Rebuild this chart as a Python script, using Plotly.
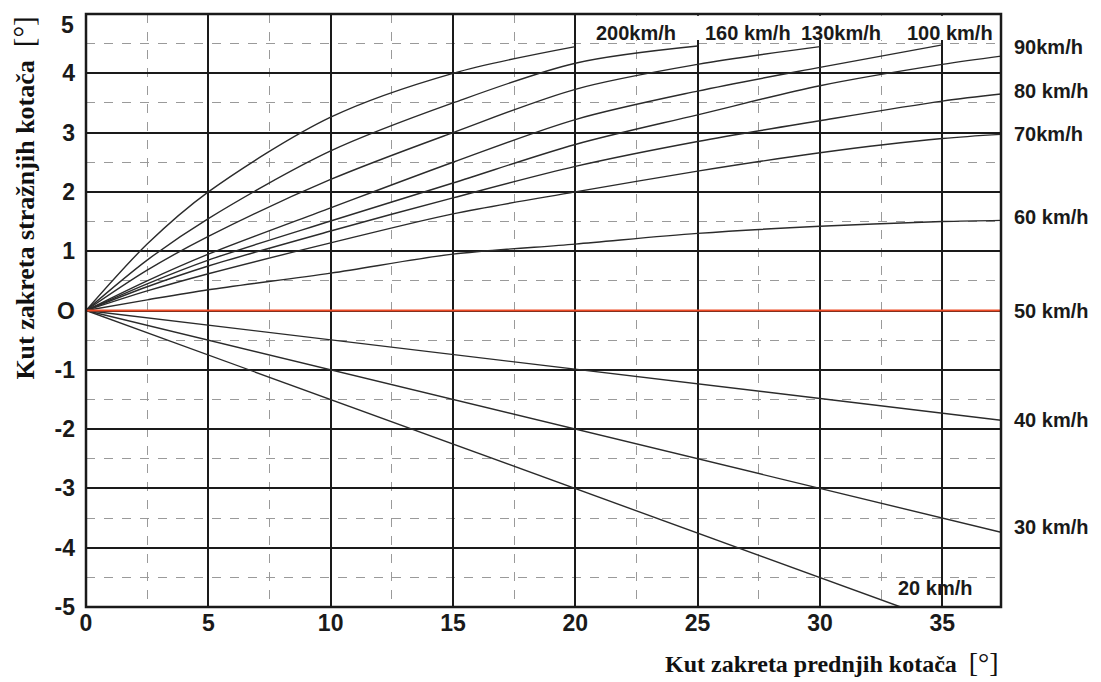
import plotly.graph_objects as go

# ---- data ----
x60 = [0, 2.5, 5, 10, 15, 20, 25, 30, 35, 37.4]
y60 = [0, 0.18, 0.35, 0.63, 0.95, 1.12, 1.30, 1.42, 1.50, 1.52]
x70 = [0, 2.5, 5, 10, 15, 20, 25, 30, 35, 37.4]
y70 = [0, 0.33, 0.62, 1.14, 1.63, 2.00, 2.35, 2.66, 2.90, 2.97]
x80 = [0, 2.5, 5, 10, 15, 20, 25, 30, 35, 37.4]
y80 = [0, 0.40, 0.75, 1.34, 1.90, 2.43, 2.85, 3.20, 3.53, 3.65]
x90 = [0, 2.5, 5, 10, 15, 20, 25, 30, 35, 37.4]
y90 = [0, 0.45, 0.85, 1.51, 2.15, 2.80, 3.30, 3.79, 4.15, 4.29]
x100 = [0, 2.5, 5, 10, 15, 20, 25, 30, 35]
y100 = [0, 0.50, 0.95, 1.73, 2.50, 3.22, 3.70, 4.10, 4.48]
x130 = [0, 2.5, 5, 10, 15, 20, 25, 30]
y130 = [0, 0.68, 1.25, 2.21, 3.00, 3.73, 4.15, 4.45]
x160 = [0, 2.5, 5, 10, 15, 20, 25]
y160 = [0, 0.85, 1.55, 2.69, 3.50, 4.17, 4.46]
x200 = [0, 2.5, 5, 10, 15, 20]
y200 = [0, 1.12, 2.00, 3.26, 4.00, 4.45]
x50 = [0, 37.4]
y50 = [0, 0]
x40 = [0, 37.4]
y40 = [0, -1.85]
x30 = [0, 37.4]
y30 = [0, -3.74]
x20 = [0, 33.3]
y20 = [0, -5.0]

series = [
    ("200km/h", x200, y200), ("160 km/h", x160, y160), ("130km/h", x130, y130),
    ("100 km/h", x100, y100), ("90km/h", x90, y90), ("80 km/h", x80, y80),
    ("70km/h", x70, y70), ("60 km/h", x60, y60), ("40 km/h", x40, y40),
    ("30 km/h", x30, y30), ("20 km/h", x20, y20),
]

x_ticks = [0, 5, 10, 15, 20, 25, 30, 35]
y_ticks = [-5, -4, -3, -2, -1, 0, 1, 2, 3, 4]
y_ticktext = ["-5", "-4", "-3", "-2", "-1", "O", "1", "2", "3", "4"]
y_top_label = "5"

right_labels = ["90km/h", "80 km/h", "70km/h", "60 km/h", "50 km/h", "40 km/h", "30 km/h"]
right_label_y = [4.45, 3.70, 2.98, 1.58, 0.0, -1.84, -3.65]
top_labels = ["200km/h", "160 km/h", "130km/h", "100 km/h"]
top_label_x = [22.5, 27.05, 30.85, 35.3]

XMAX = 37.4
SANS = "Liberation Sans, Arial, sans-serif"
label_font = dict(family=SANS, size=20, color="#1a1a1a", weight="bold")
tick_font = dict(family=SANS, size=23, color="#1a1a1a", weight="bold")

fig = go.Figure()

for name, xs, ys in series:
    fig.add_trace(go.Scatter(x=xs, y=ys, mode="lines", name=name,
                             line=dict(color="#2b2b2b", width=1.4, shape="spline", smoothing=0.9),
                             showlegend=False, hoverinfo="skip"))

fig.add_trace(go.Scatter(x=x50, y=y50, mode="lines", name="50 km/h",
                         line=dict(color="#ee4a25", width=2.2), showlegend=False))

# white strip behind top labels
fig.add_shape(type="rect", x0=20.2, x1=XMAX - 0.05, y0=4.56, y1=4.97,
              fillcolor="white", line=dict(width=0), layer="above")

for txt, xv in zip(top_labels, top_label_x):
    fig.add_annotation(x=xv, y=4.68, text=txt, showarrow=False,
                       font=label_font, xanchor="center", yanchor="middle")

for txt, yv in zip(right_labels, right_label_y):
    fig.add_annotation(x=1.012, xref="paper", y=yv, yref="y", text=txt,
                       showarrow=False, font=label_font, xanchor="left", yanchor="middle")

fig.add_annotation(x=34.7, y=-4.68, text="20 km/h", showarrow=False,
                   font=label_font, xanchor="center", yanchor="middle")

# top "5" tick label sits just under the top border in the reference
fig.add_annotation(x=-0.011, xref="paper", y=4.82, yref="y", text=y_top_label,
                   showarrow=False, font=tick_font, xanchor="right", yanchor="middle")

title_font = dict(family="Liberation Serif, Times New Roman, serif", size=26,
                  color="#111", weight="bold")
fig.add_annotation(x=-0.068, xref="paper", y=0.69, yref="paper", textangle=-90,
                   text="Kut zakreta stražnjih kotača  <span style='font-size:29px;font-weight:normal'>[°]</span>",
                   showarrow=False, font=title_font, xanchor="center", yanchor="middle")
fig.add_annotation(x=1.0, xref="paper", y=-0.093, yref="paper",
                   text="Kut zakreta prednjih kotača  <span style='font-size:28px;font-weight:normal'>[°]</span>",
                   showarrow=False, font=dict(title_font, size=24), xanchor="right", yanchor="middle")

# border
fig.add_shape(type="rect", xref="paper", yref="paper", x0=0, x1=1, y0=0, y1=1,
              line=dict(color="#1a1a1a", width=2.5), layer="above")

fig.update_xaxes(range=[0, XMAX], tickvals=x_ticks, ticktext=[str(v) for v in x_ticks],
                 showgrid=True, gridcolor="#1a1a1a", gridwidth=2,
                 minor=dict(dtick=2.5, tick0=0, showgrid=True, gridcolor="#9a9a9a",
                            gridwidth=1, griddash="dash"),
                 zeroline=False, showline=False, ticks="", automargin=False,
                 tickfont=tick_font, ticklabelstandoff=0)
fig.update_yaxes(range=[-5, 5], tickvals=y_ticks, ticktext=y_ticktext,
                 showgrid=True, gridcolor="#1a1a1a", gridwidth=2,
                 minor=dict(dtick=0.5, tick0=0, showgrid=True, gridcolor="#9a9a9a",
                            gridwidth=1, griddash="dash"),
                 zeroline=False, showline=False, ticks="", automargin=False,
                 tickfont=tick_font, ticklabelstandoff=10)

# page body adds an 8px offset; compensate so the plot lands at the reference position
fig.update_layout(width=1093, height=674, plot_bgcolor="white", paper_bgcolor="white",
                  margin=dict(l=78, r=100, t=6, b=75, autoexpand=False), showlegend=False,
                  font=dict(family=SANS))

fig.write_html("out.html")
